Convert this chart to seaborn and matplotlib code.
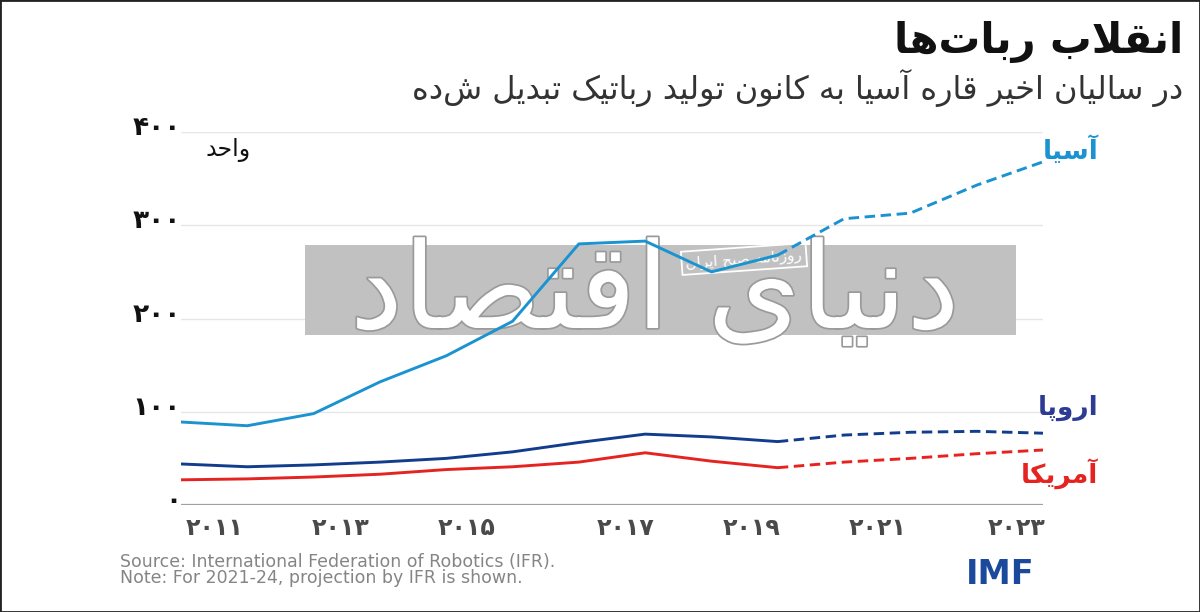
import matplotlib
matplotlib.use('Agg')
import matplotlib.pyplot as plt
import matplotlib.patheffects as pe
from matplotlib.patches import Rectangle
from matplotlib.transforms import ScaledTranslation
import pandas as pd
import seaborn as sns

# data (thousand units); 2021-24 are IFR projections
years = list(range(2011, 2025))
asia = [89, 85, 98, 132, 160, 197, 280, 283, 250, 268, 307, 313, 343, 368]
europe = [44, 41, 43, 46, 50, 57, 67, 76, 73, 68, 75, 78, 79, 77]
america = [27, 28, 30, 33, 38, 41, 46, 56, 47, 40, 46, 50, 55, 59]
last_actual = 2020

regions = ['آسیا', 'اروپا', 'آمریکا']
year_labels = ['۲۰۱۱', '۲۰۱۳', '۲۰۱۵', '۲۰۱۷', '۲۰۱۹', '۲۰۲۱', '۲۰۲۳']
y_labels = ['۰', '۱۰۰', '۲۰۰', '۳۰۰', '۴۰۰']

title = 'انقلاب ربات\u200cها'
subtitle = 'در سالیان اخیر قاره آسیا به کانون تولید رباتیک تبدیل شده'
unit = 'واحد'
source = 'Source: International Federation of Robotics (IFR).'
note = 'Note: For 2021-24, projection by IFR is shown.'

# matplotlib does no arabic shaping, so pick presentation forms by hand
FORMS = {
    'ا': ('\uFE8D', '\uFE8E', None, None),
    'آ': ('\uFE81', '\uFE82', None, None),
    'ب': ('\uFE8F', '\uFE90', '\uFE91', '\uFE92'),
    'پ': ('\uFB56', '\uFB57', '\uFB58', '\uFB59'),
    'ت': ('\uFE95', '\uFE96', '\uFE97', '\uFE98'),
    'ح': ('\uFEA1', '\uFEA2', '\uFEA3', '\uFEA4'),
    'خ': ('\uFEA5', '\uFEA6', '\uFEA7', '\uFEA8'),
    'د': ('\uFEA9', '\uFEAA', None, None),
    'ر': ('\uFEAD', '\uFEAE', None, None),
    'ز': ('\uFEAF', '\uFEB0', None, None),
    'س': ('\uFEB1', '\uFEB2', '\uFEB3', '\uFEB4'),
    'ص': ('\uFEB9', '\uFEBA', '\uFEBB', '\uFEBC'),
    'ق': ('\uFED5', '\uFED6', '\uFED7', '\uFED8'),
    'ک': ('\uFB8E', '\uFB8F', '\uFB90', '\uFB91'),
    'ل': ('\uFEDD', '\uFEDE', '\uFEDF', '\uFEE0'),
    'م': ('\uFEE1', '\uFEE2', '\uFEE3', '\uFEE4'),
    'ن': ('\uFEE5', '\uFEE6', '\uFEE7', '\uFEE8'),
    'ه': ('\uFEE9', '\uFEEA', '\uFEEB', '\uFEEC'),
    'و': ('\uFEED', '\uFEEE', None, None),
    'ی': ('\uFBFC', '\uFBFD', '\uFBFE', '\uFBFF'),
}
LAM_ALEF = ('\uFEFB', '\uFEFC')


def dual(c):
    return c in FORMS and FORMS[c][2] is not None


def fa(text):
    '''Shape persian TEXT into presentation forms, in visual (LTR) order.'''
    out = []
    i = 0
    while i < len(text):
        c = text[i]
        if c not in FORMS:
            if c != '\u200c':
                out.append(c)
            i += 1
            continue
        joins_prev = i > 0 and dual(text[i - 1])
        if c == 'ل' and i + 1 < len(text) and text[i + 1] == 'ا':
            out.append(LAM_ALEF[1 if joins_prev else 0])
            i += 2
            continue
        joins_next = dual(c) and i + 1 < len(text) and text[i + 1] in FORMS
        iso, fin, ini, med = FORMS[c]
        if joins_prev and joins_next:
            out.append(med)
        elif joins_prev:
            out.append(fin)
        elif joins_next:
            out.append(ini)
        else:
            out.append(iso)
        i += 1
    return ''.join(reversed(out))


# long table; the last actual year is repeated so both pieces join
rows = []
for name, vals in zip(regions, [asia, europe, america]):
    for yr, v in zip(years, vals):
        if yr <= last_actual:
            rows.append((yr, v, name, 'actual'))
        if yr >= last_actual:
            rows.append((yr, v, name, 'projection'))
df = pd.DataFrame(rows, columns=['year', 'value', 'region', 'phase'])

sns.set_style('white')
plt.rcParams['font.family'] = ['DejaVu Sans']

colors = {'آسیا': '#1b93d1', 'اروپا': '#123d8d', 'آمریکا': '#e52421'}
label_colors = {'آسیا': '#1b93d1', 'اروپا': '#2e3b93', 'آمریکا': '#e52421'}

W, H = 1200, 612
fig = plt.figure(figsize=(W / 100, H / 100), dpi=100)
ax = fig.add_axes([181 / W, 107 / H, 862 / W, 373 / H])

sns.lineplot(data=df, x='year', y='value', hue='region', style='phase',
             palette=colors, dashes={'actual': '', 'projection': (3.6, 1.9)},
             linewidth=2.1, legend=False, ax=ax, zorder=3)

ax.set_xlim(2011, 2024)
ax.set_ylim(0, 400)
ax.set_xlabel('')
ax.set_ylabel('')
for s in ax.spines.values():
    s.set_visible(False)

# grid + baseline
for v in [100, 200, 300, 400]:
    ax.axhline(v, color='#e6e6e6', lw=1, zorder=0.5)
ax.axhline(0, color='#a0a0a0', lw=1.6, zorder=0.6)

ax.set_yticks([0, 100, 200, 300, 400], y_labels)
ax.tick_params(axis='y', length=0, pad=0, labelsize=19, labelcolor='#111')
up = ScaledTranslation(0, 0.07, fig.dpi_scale_trans)
for t in ax.get_yticklabels():
    t.set_fontweight('bold')
    t.set_transform(t.get_transform() + up)

tick_pos = [2011.5, 2013.4, 2015.3, 2017.7, 2019.6, 2021.5, 2023.6]
ax.set_xticks(tick_pos, year_labels)
ax.tick_params(axis='x', length=0, pad=8, labelsize=17, labelcolor='#4a4a4a')
for t in ax.get_xticklabels():
    t.set_fontweight('bold')

# series labels at the line ends
ends = {'آسیا': ((40, 8), asia[-1]), 'اروپا': ((40, 18), europe[-1]),
        'آمریکا': ((40, -17), america[-1])}
for name, (off, val) in ends.items():
    ax.annotate(fa(name), xy=(years[-1], val), xytext=off,
                textcoords='offset points', ha='right', va='center',
                fontsize=19, fontweight='bold', color=label_colors[name])

# watermark band
ax.add_patch(Rectangle((305 / W, 1 - 335 / H), 711 / W, 90 / H,
                       transform=fig.transFigure, facecolor='#c1c1c1',
                       edgecolor='none', zorder=1, clip_on=False))
ax.text(655 / W, 1 - 295 / H, fa('دنیای اقتصاد'), transform=fig.transFigure,
        ha='center', va='center', fontsize=86, color='white', zorder=1.5,
        path_effects=[pe.withStroke(linewidth=2.5, foreground='#9a9a9a')])
ax.text(744 / W, 1 - 259 / H, fa('روزنامه صبح ایران'), transform=fig.transFigure,
        ha='center', va='center', fontsize=11, color='white', rotation=4,
        zorder=2, bbox=dict(facecolor='none', edgecolor='white', lw=1.3, pad=3))

# titles and notes
fig.text(1183 / W, 1 - 42 / H, fa(title), ha='right', va='center',
         fontsize=30, fontweight='bold', color='#111')
fig.text(1183 / W, 1 - 88 / H, fa(subtitle), ha='right', va='center',
         fontsize=23, color='#333')
fig.text(228 / W, 1 - 150 / H, fa(unit), ha='center', va='center',
         fontsize=17, color='#111')
fig.text(120 / W, 1 - 562 / H, source, ha='left', va='center',
         fontsize=12.5, color='#858585')
fig.text(120 / W, 1 - 578 / H, note, ha='left', va='center',
         fontsize=12.5, color='#858585')
fig.text(1000 / W, 1 - 575 / H, 'IMF', ha='center', va='center',
         fontsize=24, fontweight='bold', color='#1b4a9c')

fig.add_artist(Rectangle((0, 0), 1, 1, transform=fig.transFigure,
                         fill=False, edgecolor='#222', lw=2))

fig.savefig('out.png', dpi=100)
